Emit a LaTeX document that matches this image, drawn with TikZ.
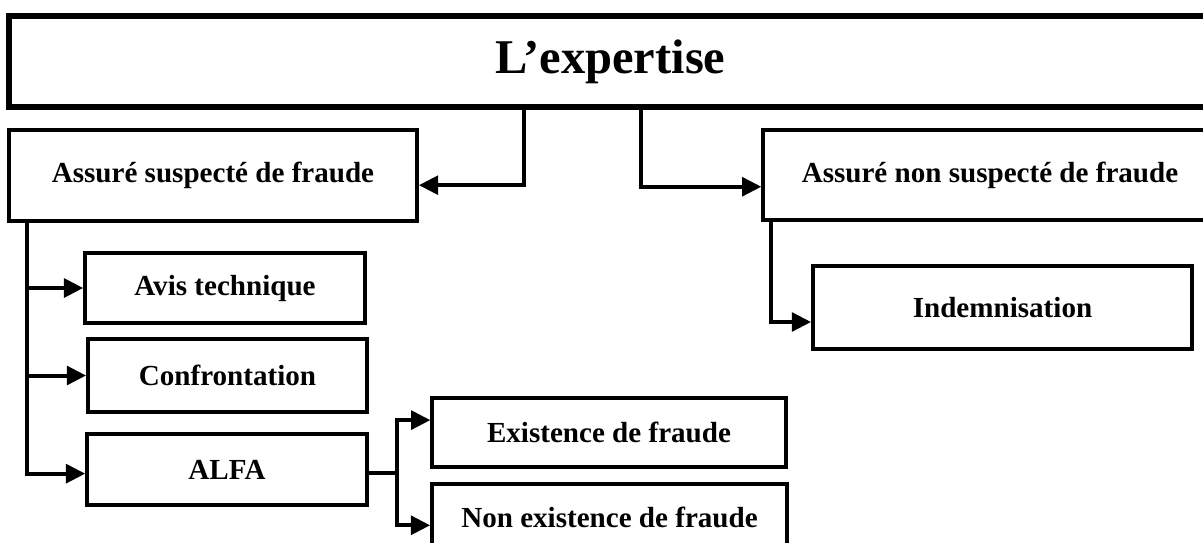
\documentclass[tikz,border=0pt]{standalone}
\usepackage{fontspec}
\setmainfont{Liberation Serif}
\usepackage{tikz}
\usetikzlibrary{arrows.meta,positioning}

\begin{document}
\begin{tikzpicture}[
    x=0.145mm, y=-0.145mm,
    box/.style={rectangle, draw, line width=0.5mm, inner sep=2pt, font=\fontsize{12}{14}\selectfont\bfseries},
    titlebox/.style={rectangle, draw, line width=0.85mm, minimum width=174.4mm, minimum height=13.2mm, font=\fontsize{20}{24}\selectfont\bfseries},
    arrow/.style={-{Triangle[length=2.8mm, width=2.7mm]}, line width=0.58mm},
    branch/.style={line width=0.58mm}
]
\useasboundingbox (0,0) rectangle (1203,542);

% Top
\node[titlebox] (top) at (610.5,61.5) {L’expertise};

% Two kinds of insured
\node[box, minimum width=59.2mm, minimum height=13.2mm] (suspect) at (213,175.5) {Assuré suspecté de fraude};
\node[box, minimum width=65.8mm, minimum height=13.05mm] (nonsusp) at (990,175) {Assuré non suspecté de fraude};

% Suspected side
\node[box, minimum width=40.6mm, minimum height=10.15mm] (avis) at (225,288) {Avis technique};
\node[box, minimum width=40.5mm, minimum height=10.6mm] (confr) at (227.5,375.5) {Confrontation};
\node[box, minimum width=40.6mm, minimum height=10.3mm] (alfa) at (227,469.5) {ALFA};
\node[box, minimum width=51.3mm, minimum height=10mm] (exist) at (609,432.5) {Existence de fraude};
\node[box, minimum width=51.5mm, minimum height=9.6mm] (nonex) at (609.5,517) {Non existence de fraude};

% Non suspected side
\node[box, minimum width=55mm, minimum height=12mm] (indemn) at (1002.5,307.5) {Indemnisation};

% Top arrows
\draw[arrow] (top.south -| 524,0) |- ([yshift=-1.4mm]suspect.east);
\draw[arrow] (top.south -| 641,0) |- ([yshift=-1.7mm]nonsusp.west);

% Suspected arrows
\draw[arrow] (suspect.south -| 27,0) |- (avis.west);
\draw[arrow] (suspect.south -| 27,0) |- (confr.west);
\draw[arrow] (suspect.south -| 27,0) |- ([yshift=-0.6mm]alfa.west);

% ALFA fork
\draw[branch] ([yshift=-0.5mm]alfa.east) -- ++(28,0) coordinate (fork);
\draw[arrow] (fork) |- ([yshift=1.8mm]exist.west);
\draw[arrow] (fork) |- ([yshift=-1.2mm]nonex.west);

% Non suspected arrow
\draw[arrow] (nonsusp.south -| 771,0) |- ([yshift=-2.1mm]indemn.west);

\end{tikzpicture}
\end{document}
